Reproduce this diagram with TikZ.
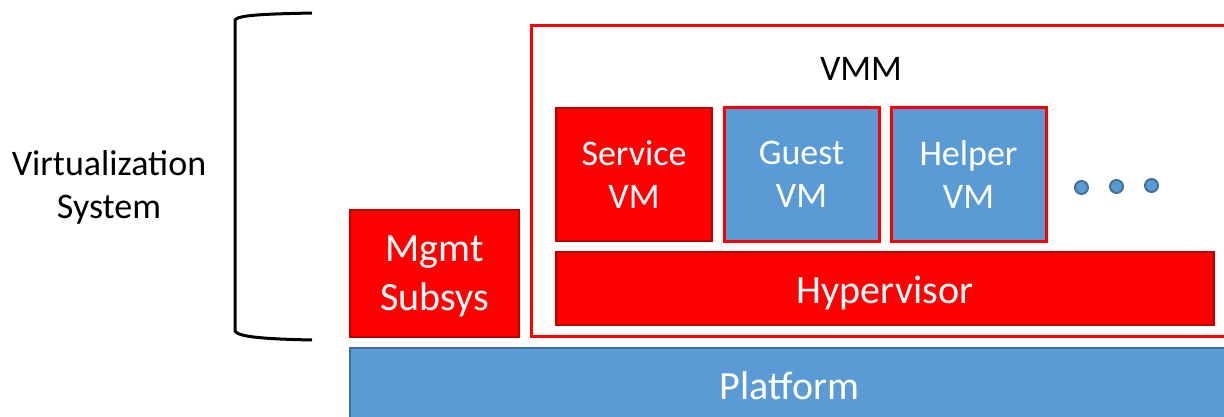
\documentclass[tikz,border=0pt]{standalone}
\usepackage{fontspec}
\setmainfont{Carlito}
\definecolor{pptred}{HTML}{FF0000}
\definecolor{darkred}{HTML}{C00000}
\definecolor{pptblue}{HTML}{5B9BD5}
\definecolor{blueedge}{HTML}{41719C}
\tikzset{
  redbox/.style={draw=darkred, line width=2pt, fill=pptred, text=white, align=center, inner sep=0pt},
  bluebox/.style={draw=pptred, line width=3pt, fill=pptblue, text=white, align=center, inner sep=0pt},
  platbox/.style={draw=blueedge, line width=2pt, fill=pptblue, text=white, inner sep=0pt},
  frame/.style={draw=pptred, line width=2.6pt, inner sep=0pt},
  dot/.style={circle, draw=blueedge, line width=2pt, fill=pptblue, minimum size=13pt, inner sep=0pt},
  midfont/.style={font=\fontsize{36}{43}\selectfont},
  bigfont/.style={font=\fontsize{40}{49}\selectfont},
  brace/.style={draw=black, line width=3pt}
}
\begin{document}
\begin{tikzpicture}[x=1pt,y=-1pt]
\useasboundingbox (0,0) rectangle (1224,417);
% VMM frame
\node[frame, minimum width=710pt, minimum height=311.5pt] (vmm) at (886.5,181) {};
\node[midfont] (vmmlabel) at (861,69) {VMM};
% VMs
\node[redbox, midfont, minimum width=156pt, minimum height=133pt] (service) at (634,174.5) {Service\\VM};
\node[bluebox, midfont, minimum width=155pt, minimum height=133pt] (guest) at (801.5,174.5) {Guest\\VM};
\node[bluebox, midfont, minimum width=155pt, minimum height=133pt] (helper) at (968.5,174.5) {Helper\\VM};
\node[dot] (d1) at (1081.5,187.5) {};
\node[dot] (d2) at (1116.5,186.5) {};
\node[dot] (d3) at (1151.5,185.5) {};
% Hypervisor
\node[redbox, bigfont, text height=30pt, text depth=0pt, minimum width=658pt, minimum height=73pt] (hyp) at (885,288.5) {Hypervisor};
% Mgmt
\node[redbox, bigfont, text depth=0pt, minimum width=169pt, minimum height=127pt] (mgmt) at (434.5,273.5) {Mgmt\\Subsys};
% Platform
\node[platbox, bigfont, minimum width=879pt, minimum height=75pt] (plat) at (789.5,385.5) {Platform};
% Label
\node[midfont, align=center, text depth=0pt] (vs) at (109,185) {Virtualization\\System};
% Brace
\coordinate (bt) at (312,13);
\coordinate (bb) at (312,340);
\draw[brace] (bt) .. controls (265,14) and (238,15) .. (235,20) -- (235,331) .. controls (238,337) and (265,339) .. (bb);
\end{tikzpicture}
\end{document}
